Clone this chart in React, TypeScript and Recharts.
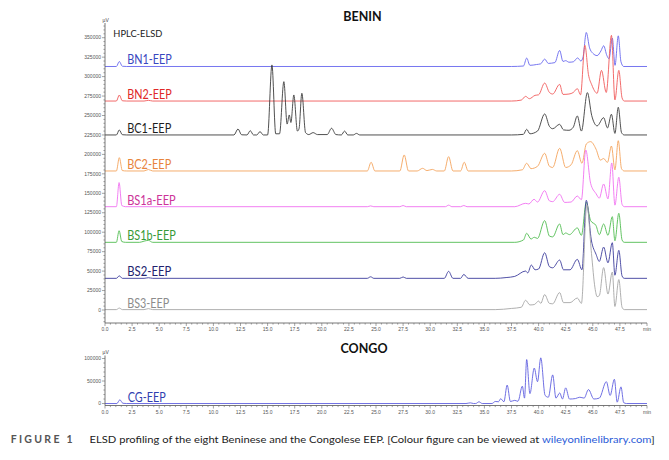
import React from 'react';
import { LineChart, Line, XAxis, YAxis, ReferenceDot } from 'recharts';

type Pt = [number, number];

// ---------- axis tick values / labels ----------
const X_MAJOR_TICKS = [0, 2.5, 5, 7.5, 10, 12.5, 15, 17.5, 20, 22.5, 25, 27.5, 30, 32.5, 35, 37.5, 40, 42.5, 45, 47.5, 50];
const X_TICK_LABELS = ['0.0', '2.5', '5.0', '7.5', '10.0', '12.5', '15.0', '17.5', '20.0', '22.5', '25.0', '27.5', '30.0', '32.5', '35.0', '37.5', '40.0', '42.5', '45.0', '47.5', 'min'];
const Y_TOP_MAJOR = [0, 25000, 50000, 75000, 100000, 125000, 150000, 175000, 200000, 225000, 250000, 275000, 300000, 325000, 350000];
const Y_BOTTOM_MAJOR = [0, 50000, 100000];

// ---------- series baselines (µV) ----------
const BN1_BASE = 313000;
const BN2_BASE = 268600;
const BC1_BASE = 225000;
const BC2_BASE = 178700;
const BS1A_BASE = 132800;
const BS1B_BASE = 87000;
const BS2_BASE = 40700;
const BS3_BASE = 500;
const CG_BASE = 0;

// ---------- chromatograms: [time (min), signal above baseline (µV)] ----------
const BN1: Pt[] = [[0,0],[1.05,0],[1.32,6400],[1.6,300],[2.0,0],[37.5,0],[38.6,600],[38.9,10800],[39.2,1500],[39.8,2500],[40.2,3500],[40.56,9500],[40.9,4000],[41.5,5000],[41.94,20600],[42.25,6500],[42.5,7500],[42.8,5500],[43.2,6000],[43.6,11000],[43.9,7000],[44.1,12000],[44.4,43700],[44.7,24000],[45.0,17000],[45.4,14000],[45.75,20000],[46.0,26600],[46.3,14000],[46.5,10000],[46.8,36500],[47.05,1500],[47.35,39400],[47.6,6000],[47.85,0],[50,0]];
const BN2: Pt[] = [[0,0],[1.05,0],[1.32,7700],[1.6,300],[2.0,0],[3.6,0],[4.0,900],[4.4,0],[37.5,0],[38.4,1200],[38.8,6000],[39.15,3000],[39.67,7300],[40.0,8000],[40.56,23100],[41.0,11000],[41.3,9000],[41.94,21400],[42.25,8500],[42.8,9000],[43.2,11000],[43.57,15900],[43.87,8000],[44.27,71600],[44.6,34000],[44.9,21000],[45.4,10000],[45.8,39400],[46.24,11000],[46.72,84400],[47.04,1500],[47.4,39400],[47.7,4000],[47.9,0],[50,0]];
const BC1: Pt[] = [[0,0],[1.05,0],[1.32,6400],[1.6,300],[2.0,0],[11.9,0],[12.27,7700],[12.6,200],[13.1,0],[13.4,5500],[13.7,0],[14.0,0],[14.3,4300],[14.6,0],[15.0,0],[15.4,90000],[15.75,1500],[16.1,1500],[16.5,68500],[16.8,14000],[17.0,25700],[17.15,16000],[17.42,51400],[17.75,5000],[17.9,8000],[18.16,53600],[18.5,3000],[18.8,500],[19.2,3000],[19.6,500],[20.5,500],[20.9,8600],[21.3,500],[21.8,0],[22.1,5000],[22.4,0],[22.9,0],[23.2,2000],[23.5,0],[37.5,0],[38.6,800],[38.9,7300],[39.2,1500],[39.9,5000],[40.56,27000],[41.0,11000],[41.3,8000],[41.94,13700],[42.3,6500],[42.8,6000],[43.2,10000],[43.57,24400],[43.95,5000],[44.5,54400],[44.9,25000],[45.4,11700],[46.0,22200],[46.35,9000],[46.72,26600],[47.04,2000],[47.35,35600],[47.65,3000],[47.9,0],[50,0]];
const BC2: Pt[] = [[0,0],[1.05,0],[1.32,17100],[1.6,500],[2.0,0],[3.6,0],[4.0,1900],[4.4,0],[24.2,0],[24.55,11200],[24.9,0],[27.2,0],[27.6,20600],[28.0,0],[28.8,0],[29.3,3400],[29.7,500],[30.2,2000],[30.6,0],[31.3,0],[31.7,18400],[32.1,0],[32.8,0],[33.14,11200],[33.5,0],[37.5,0],[38.5,1500],[38.9,9900],[39.3,3000],[39.9,6000],[40.56,22700],[41.0,6000],[41.3,4500],[41.94,29200],[42.5,4500],[43.0,8000],[43.57,26100],[44.0,9900],[44.4,34700],[44.8,37700],[45.3,28000],[45.7,14000],[46.0,16000],[46.35,11000],[46.72,32100],[47.04,1500],[47.35,38900],[47.65,3000],[47.9,0],[50,0]];
const BS1A: Pt[] = [[0,0],[1.05,0],[1.3,31000],[1.55,1500],[1.9,0],[24.2,0],[24.5,1000],[24.8,0],[27.2,0],[27.5,1500],[27.8,0],[31.4,0],[31.7,2000],[32.0,0],[32.8,0],[33.1,1500],[33.4,0],[37.8,0],[38.8,4300],[39.1,3500],[39.58,9500],[39.9,6000],[40.56,20600],[41.0,7500],[41.3,6500],[41.94,15900],[42.4,5500],[43.0,6000],[43.57,13700],[43.95,9000],[44.35,72900],[44.8,30000],[45.3,16700],[45.6,11000],[46.0,29200],[46.4,10000],[46.75,56200],[47.04,2000],[47.4,37800],[47.7,3000],[47.9,0],[50,0]];
const BS1B: Pt[] = [[0,0],[1.05,0],[1.3,14900],[1.55,1000],[1.9,0],[3.2,0],[3.6,1500],[4.0,2500],[4.4,0],[37.8,0],[38.6,3000],[38.9,11600],[39.3,4200],[39.6,6500],[39.9,5000],[40.56,27900],[41.0,8000],[41.3,7000],[41.94,23600],[42.25,9900],[42.5,12000],[42.85,9900],[43.57,18500],[43.95,9000],[44.4,51400],[44.8,27900],[45.3,21400],[45.6,9900],[46.0,23600],[46.4,9000],[46.8,33000],[47.04,2000],[47.4,37300],[47.7,3000],[47.9,0],[50,0]];
const BS2: Pt[] = [[0,0],[1.05,0],[1.32,3200],[1.6,0],[3.6,0],[4.0,800],[4.4,0],[24.2,0],[24.5,2000],[24.8,0],[27.2,0],[27.5,1800],[27.8,0],[31.3,0],[31.7,9000],[32.1,0],[32.8,0],[33.1,5000],[33.5,0],[36.0,0],[37.0,1000],[37.8,2500],[38.8,9400],[39.0,7000],[39.33,17100],[39.67,11000],[40.0,12000],[40.56,32900],[41.0,15000],[41.3,13500],[41.94,23500],[42.3,11000],[42.9,11000],[43.57,24400],[44.0,11000],[44.4,100300],[44.88,48000],[45.3,30900],[45.6,21800],[46.0,40200],[46.4,20000],[46.8,45800],[47.04,4000],[47.4,36000],[47.7,3000],[47.9,0],[50,0]];
const BS3: Pt[] = [[0,0],[1.05,0],[1.32,2000],[1.6,0],[3.6,0],[4.0,1300],[4.4,0],[36.0,0],[37.5,1500],[38.4,3000],[38.8,12000],[39.2,6000],[39.6,6500],[40.0,11000],[40.2,8000],[40.56,19300],[41.0,8000],[41.3,7500],[41.94,21900],[42.3,9000],[42.9,9000],[43.57,14900],[43.95,8000],[44.45,135000],[44.88,72000],[45.2,28000],[45.4,16700],[45.6,18000],[46.0,54000],[46.4,20000],[46.8,48300],[47.04,4000],[47.4,38600],[47.7,3000],[47.9,0],[50,0]];
const CG: Pt[] = [[0,0],[1.1,0],[1.37,8300],[1.65,500],[2.0,0],[33.3,0],[33.7,1500],[34.0,0],[34.2,0],[34.5,3800],[34.8,0],[35.7,0],[36.0,4500],[36.3,4000],[36.5,10600],[36.8,4000],[37.1,41000],[37.4,4500],[37.8,7000],[38.1,5000],[38.5,38600],[38.7,12000],[38.9,97700],[39.2,22000],[39.6,78800],[39.9,48500],[40.2,101500],[40.6,18000],[40.9,14000],[41.3,63600],[41.6,12000],[41.95,23500],[42.2,10000],[42.5,34800],[42.85,10000],[43.4,11000],[43.8,14000],[44.2,12000],[44.6,31000],[45.1,10000],[45.6,12000],[46.25,48500],[46.6,18000],[46.99,53800],[47.25,3000],[47.6,37000],[47.85,2000],[48.1,0],[50,0]];

const SERIES_NAMES = ['BN1-EEP', 'BN2-EEP', 'BC1-EEP', 'BC2-EEP', 'BS1a-EEP', 'BS1b-EEP', 'BS2-EEP', 'BS3-EEP'];

// ---------- build tables ----------
const toData = (pts: Pt[], base: number) => pts.map(([t, h]) => ({ t, v: base + h }));

const TOP_SERIES = [
  { name: SERIES_NAMES[0], data: toData(BN1, BN1_BASE), base: BN1_BASE, line: '#6868ee', text: '#3848c0', w: 44.5 },
  { name: SERIES_NAMES[1], data: toData(BN2, BN2_BASE), base: BN2_BASE, line: '#f05a5a', text: '#e02828', w: 44.5 },
  { name: SERIES_NAMES[2], data: toData(BC1, BC1_BASE), base: BC1_BASE, line: '#3c3c3c', text: '#1e1e1e', w: 44 },
  { name: SERIES_NAMES[3], data: toData(BC2, BC2_BASE), base: BC2_BASE, line: '#f4a45c', text: '#e8843c', w: 44 },
  { name: SERIES_NAMES[4], data: toData(BS1A, BS1A_BASE), base: BS1A_BASE, line: '#f070f0', text: '#cc3399', w: 48.5 },
  { name: SERIES_NAMES[5], data: toData(BS1B, BS1B_BASE), base: BS1B_BASE, line: '#50bc50', text: '#379a37', w: 48.5 },
  { name: SERIES_NAMES[6], data: toData(BS2, BS2_BASE), base: BS2_BASE, line: '#3c3c9c', text: '#22226e', w: 44 },
  { name: SERIES_NAMES[7], data: toData(BS3, BS3_BASE), base: BS3_BASE, line: '#a6a6a6', text: '#8c8c8c', w: 42 },
];
const CG_DATA = toData(CG, CG_BASE);

const xTicks: number[] = [];
for (let i = 0; i <= 100; i++) xTicks.push(i * 0.5);
const yTopTicks: number[] = [];
for (let v = -15000; v <= 365000; v += 5000) yTopTicks.push(v);
const yBottomTicks: number[] = [];
for (let v = 0; v <= 100000; v += 10000) yBottomTicks.push(v);

const TICK_FONT = 'Liberation Sans, Arial, sans-serif';
const LABEL_FONT = 'Lato, sans-serif';

const XTick = (props: any) => {
  const { x, y, payload } = props;
  const v = payload.value;
  const idx = X_MAJOR_TICKS.findIndex((m) => Math.abs(m - v) < 1e-6);
  const major = idx >= 0;
  return (
    <g>
      <line x1={x} x2={x} y1={y} y2={y + (major ? 3 : 1.6)} stroke="#666" strokeWidth={0.6} />
      {major && (
        <text x={x} y={y + 8.2} textAnchor="middle" fontSize={5} fontFamily={TICK_FONT} fill="#555">
          {X_TICK_LABELS[idx]}
        </text>
      )}
    </g>
  );
};

const makeYTick = (majors: number[]) => (props: any) => {
  const { x, y, payload } = props;
  const v = payload.value;
  const major = majors.some((m) => Math.abs(m - v) < 1e-6);
  return (
    <g>
      <line x1={x} x2={x - (major ? 3 : 1.6)} y1={y} y2={y} stroke="#666" strokeWidth={0.6} />
      {major && (
        <text x={x - 4} y={y + 1.7} textAnchor="end" fontSize={5} fontFamily={TICK_FONT} fill="#555">
          {String(v)}
        </text>
      )}
    </g>
  );
};

const makeLabel = (text: string, color: string, w: number) => (props: any) => {
  const vb = props.viewBox || { x: 0, y: 0 };
  return (
    <text x={vb.x} y={vb.y - 2} fill={color} fontSize={12.5} fontFamily={LABEL_FONT} textLength={w} lengthAdjust="spacingAndGlyphs">
      {text}
    </text>
  );
};

export default function App() {
  return (
    <div style={{ position: 'absolute', left: 0, top: 0, width: 669, height: 460, background: '#fff', overflow: 'hidden' }}>
      <div style={{ position: 'absolute', left: 0, top: 0 }}>
        <LineChart width={669} height={345} margin={{ top: 23, right: 22, bottom: 8, left: 65 }}>
          <XAxis
            type="number"
            dataKey="t"
            domain={[0, 50]}
            ticks={xTicks}
            interval={0}
            tick={<XTick />}
            tickLine={false}
            tickSize={0}
            tickMargin={0}
            height={14}
            axisLine={{ stroke: '#555', strokeWidth: 0.8 }}
            allowDataOverflow
          />
          <XAxis xAxisId="top" orientation="top" type="number" domain={[0, 50]} tick={false} tickLine={false} height={0} axisLine={{ stroke: '#888', strokeWidth: 0.8 }} />
          <YAxis
            type="number"
            domain={[-16700, 368900]}
            ticks={yTopTicks}
            interval={0}
            tick={makeYTick(Y_TOP_MAJOR)}
            tickLine={false}
            tickSize={0}
            tickMargin={0}
            width={40}
            axisLine={{ stroke: '#555', strokeWidth: 0.8 }}
            allowDataOverflow
          />
          <YAxis yAxisId="right" orientation="right" type="number" domain={[0, 1]} tick={false} tickLine={false} width={0} axisLine={{ stroke: '#888', strokeWidth: 0.8 }} />
          {TOP_SERIES.map((s) => (
            <Line
              key={s.name}
              data={s.data}
              dataKey="v"
              type="monotone"
              stroke={s.line}
              strokeWidth={0.9}
              dot={false}
              activeDot={false}
              isAnimationActive={false}
            />
          ))}
          {TOP_SERIES.map((s) => (
            <ReferenceDot key={'lbl' + s.name} x={2.05} y={s.base} r={0} stroke="none" fill="none" label={makeLabel(s.name, s.text, s.w)} />
          ))}
        </LineChart>
      </div>
      <div style={{ position: 'absolute', left: 0, top: 340 }}>
        <LineChart width={669} height={80} margin={{ top: 15.5, right: 22, bottom: 2.5, left: 65 }}>
          <XAxis
            type="number"
            dataKey="t"
            domain={[0, 50]}
            ticks={xTicks}
            interval={0}
            tick={<XTick />}
            tickLine={false}
            tickSize={0}
            tickMargin={0}
            height={12}
            axisLine={{ stroke: '#555', strokeWidth: 0.8 }}
            allowDataOverflow
          />
          <XAxis xAxisId="top" orientation="top" type="number" domain={[0, 50]} tick={false} tickLine={false} height={0} axisLine={{ stroke: '#888', strokeWidth: 0.8 }} />
          <YAxis
            type="number"
            domain={[-4400, 106700]}
            ticks={yBottomTicks}
            interval={0}
            tick={makeYTick(Y_BOTTOM_MAJOR)}
            tickLine={false}
            tickSize={0}
            tickMargin={0}
            width={40}
            axisLine={{ stroke: '#555', strokeWidth: 0.8 }}
            allowDataOverflow
          />
          <YAxis yAxisId="right" orientation="right" type="number" domain={[0, 1]} tick={false} tickLine={false} width={0} axisLine={{ stroke: '#888', strokeWidth: 0.8 }} />
          <Line data={CG_DATA} dataKey="v" type="monotone" stroke="#6060e0" strokeWidth={0.9} dot={false} activeDot={false} isAnimationActive={false} />
          <ReferenceDot x={2.1} y={CG_BASE} r={0} stroke="none" fill="none" label={makeLabel('CG-EEP', '#3040b0', 38)} />
        </LineChart>
      </div>
      <svg width={669} height={460} style={{ position: 'absolute', left: 0, top: 0, pointerEvents: 'none' }}>
        <text x={362.5} y={21} textAnchor="middle" fontSize={12.5} fontWeight="bold" fontFamily={LABEL_FONT} fill="#111">BENIN</text>
        <text x={364} y={352.5} textAnchor="middle" fontSize={12.5} fontWeight="bold" fontFamily={LABEL_FONT} fill="#111">CONGO</text>
        <text x={102.5} y={22} fontSize={5} fontFamily={TICK_FONT} fill="#444">µV</text>
        <text x={102.5} y={353.5} fontSize={5} fontFamily={TICK_FONT} fill="#444">µV</text>
        <text x={113.3} y={36.7} fontSize={10} fontFamily={LABEL_FONT} fill="#222" textLength={49} lengthAdjust="spacingAndGlyphs">HPLC-ELSD</text>
        <text x={10.7} y={443} fontSize={10.5} fontWeight="bold" fontFamily={LABEL_FONT} fill="#555" textLength={62} lengthAdjust="spacing">FIGURE 1</text>
        <text x={89.6} y={443} fontSize={10} fontFamily={LABEL_FONT} fill="#222" textLength={565} lengthAdjust="spacingAndGlyphs">
          ELSD profiling of the eight Beninese and the Congolese EEP. [Colour figure can be viewed at <tspan fill="#2a5bd7">wileyonlinelibrary.com</tspan>]
        </text>
      </svg>
    </div>
  );
}
